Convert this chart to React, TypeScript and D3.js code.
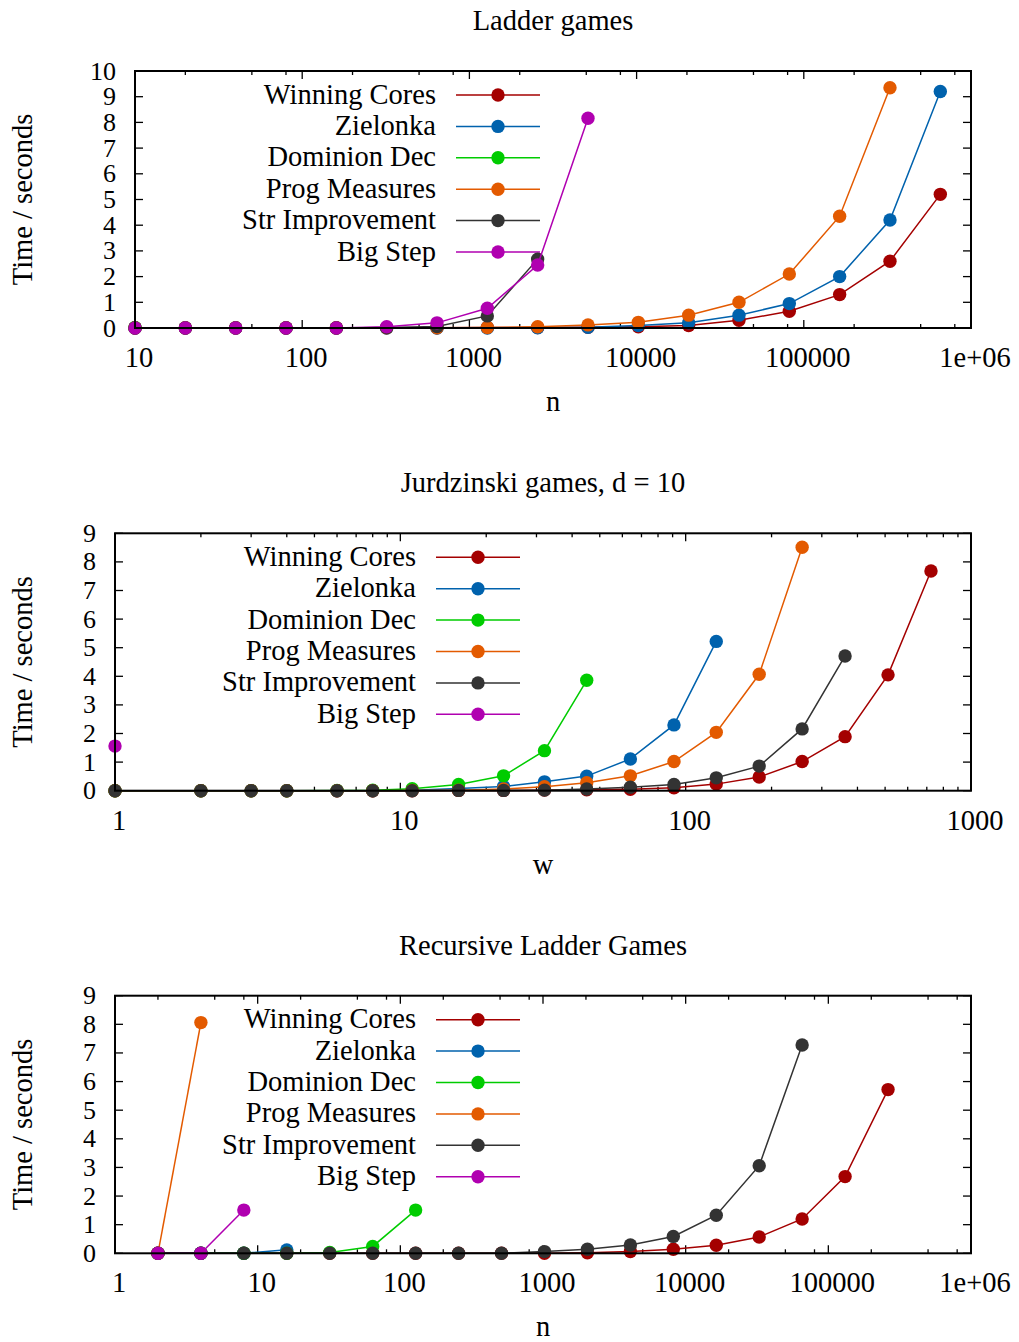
import React from 'react';
import * as d3 from 'd3';

const width = 1019;
const height = 1342;
const font = '"Liberation Serif", "Times New Roman", serif';
const fontSize = 28.5;
const tickFontSize = 26;

const names = ['Winning Cores', 'Zielonka', 'Dominion Dec', 'Prog Measures', 'Str Improvement', 'Big Step'];
const colors = ['#a40000', '#0062ad', '#00cc00', '#e35a00', '#333333', '#b000b0'];

// --- Ladder games ---
const ladderN = [10, 20, 40, 80, 160, 320, 640, 1280, 2560, 5120, 10240, 20480, 40960, 81920, 163840, 327680, 655360];
const ladderWinningCores = [0.01, 0.01, 0.01, 0.01, 0.01, 0.01, 0.01, 0.02, 0.02, 0.03, 0.05, 0.1, 0.3, 0.65, 1.3, 2.6, 5.2];
const ladderZielonka = [0, 0, 0, 0, 0, 0, 0, 0, 0.01, 0.03, 0.1, 0.2, 0.5, 0.95, 2.0, 4.2, 9.2];
const ladderDominion = [0.02];
const ladderProg = [0, 0, 0, 0, 0, 0.01, 0.01, 0.02, 0.05, 0.12, 0.22, 0.5, 1.0, 2.1, 4.35, 9.35];
const ladderStrImp = [0, 0, 0, 0, 0, 0.02, 0.06, 0.47, 2.68];
const ladderBigStep = [0, 0, 0, 0, 0, 0.05, 0.2, 0.77, 2.45, 8.16];
const ladderTicks = [10, 100, 1000, 10000, 100000, 1000000];
const ladderTickLabels = ['10', '100', '1000', '10000', '100000', '1e+06'];

// --- Jurdzinski games, d = 10 ---
const jurW = [1, 2, 3, 4, 6, 8, 11, 16, 23, 32, 45, 64, 91, 128, 181, 256, 362, 512, 724];
const jurWinningCores = [0, 0, 0, 0, 0, 0, 0, 0.01, 0.01, 0.02, 0.03, 0.05, 0.1, 0.23, 0.48, 1.02, 1.89, 4.05, 7.68];
const jurZielonka = [0, 0, 0, 0, 0, 0, 0.02, 0.08, 0.15, 0.31, 0.51, 1.11, 2.3, 5.22];
const jurDominion = [0, 0, 0, 0, 0.01, 0.02, 0.07, 0.22, 0.52, 1.4, 3.86];
const jurProg = [0, 0, 0, 0, 0, 0, 0.01, 0.02, 0.06, 0.14, 0.28, 0.52, 1.02, 2.04, 4.07, 8.51];
const jurStrImp = [0, 0, 0, 0, 0, 0, 0, 0.01, 0.01, 0.02, 0.06, 0.12, 0.22, 0.45, 0.86, 2.16, 4.71];
const jurBigStep = [1.56];
const jurTicks = [1, 10, 100, 1000];
const jurTickLabels = ['1', '10', '100', '1000'];

// --- Recursive Ladder Games ---
const recN = [2, 4, 8, 16, 32, 64, 128, 256, 512, 1024, 2048, 4096, 8192, 16384, 32768, 65536, 131072, 262144];
const recWinningCores = [0, 0, 0, 0, 0, 0, 0, 0, 0, 0, 0.02, 0.06, 0.14, 0.28, 0.57, 1.2, 2.68, 5.72];
const recZielonka = [0, 0, 0, 0.12];
const recDominion = [0, 0, 0, 0, 0.03, 0.24, 1.51];
const recProg = [0, 8.06];
const recStrImp = [0, 0, 0, 0, 0, 0, 0, 0, 0, 0.06, 0.14, 0.29, 0.59, 1.33, 3.06, 7.28];
const recBigStep = [0, 0, 1.51];
const recTicks = [1, 10, 100, 1000, 10000, 100000, 1000000];
const recTickLabels = ['1', '10', '100', '1000', '10000', '100000', '1e+06'];

const panels = [
    {
        title: 'Ladder games', xlabel: 'n', xs: ladderN,
        series: [ladderWinningCores, ladderZielonka, ladderDominion, ladderProg, ladderStrImp, ladderBigStep],
        left: 135, right: 971, top: 71, bottom: 328, xDomain: [10, 1000000], yMax: 10,
        ticks: ladderTicks, tickLabels: ladderTickLabels, minor: [2, 5, 8], legendRight: 436,
    },
    {
        title: 'Jurdzinski games, d = 10', xlabel: 'w', xs: jurW,
        series: [jurWinningCores, jurZielonka, jurDominion, jurProg, jurStrImp, jurBigStep],
        left: 115, right: 971, top: 533.3, bottom: 790.7, xDomain: [1, 1000], yMax: 9,
        ticks: jurTicks, tickLabels: jurTickLabels, minor: [2, 3, 4, 5, 6, 7, 8, 9], legendRight: 416,
    },
    {
        title: 'Recursive Ladder Games', xlabel: 'n', xs: recN,
        series: [recWinningCores, recZielonka, recDominion, recProg, recStrImp, recBigStep],
        left: 115, right: 971, top: 995.7, bottom: 1253.3, xDomain: [1, 1000000], yMax: 9,
        ticks: recTicks, tickLabels: recTickLabels, minor: [2, 5, 8], legendRight: 416,
    },
];

function Panel({p}) {
    const x = d3.scaleLog().domain(p.xDomain).range([p.left, p.right]);
    const y = d3.scaleLinear().domain([0, p.yMax]).range([p.bottom, p.top]);
    const lineGen = d3.line().x(d => x(d[0])).y(d => y(d[1]));
    const cx = (p.left + p.right) / 2;
    const cy = (p.top + p.bottom) / 2;

    // minor ticks on the log axis
    const minors = [];
    const [lo, hi] = p.xDomain;
    for (let e = Math.floor(Math.log10(lo)); e <= Math.ceil(Math.log10(hi)); e++) {
        for (const m of p.minor) {
            const v = m * Math.pow(10, e);
            if (v > lo && v < hi) minors.push(v);
        }
    }
    const yTicks = d3.range(0, p.yMax + 1);
    const rowH = 31.4;
    const legendTop = p.top + 24;

    return (
        <g>
            <text x={cx} y={p.top - 41} textAnchor='middle' fontSize={fontSize}>{p.title}</text>
            <text x={cx} y={p.bottom + 83} textAnchor='middle' fontSize={fontSize}>{p.xlabel}</text>
            <text transform={`translate(32, ${cy}) rotate(-90)`} textAnchor='middle' fontSize={fontSize}>Time / seconds</text>

            {yTicks.map(t => (
                <g key={'y' + t}>
                    <line x1={p.left} x2={p.left + 8} y1={y(t)} y2={y(t)} stroke='black' strokeWidth='1.3'/>
                    <line x1={p.right} x2={p.right - 8} y1={y(t)} y2={y(t)} stroke='black' strokeWidth='1.3'/>
                    <text x={p.left - 19} y={y(t) + 8.5} textAnchor='end' fontSize={tickFontSize}>{t}</text>
                </g>
            ))}
            {p.ticks.map((t, i) => (
                <g key={'x' + t}>
                    <line x1={x(t)} x2={x(t)} y1={p.bottom} y2={p.bottom - 8} stroke='black' strokeWidth='1.3'/>
                    <line x1={x(t)} x2={x(t)} y1={p.top} y2={p.top + 8} stroke='black' strokeWidth='1.3'/>
                    <text x={x(t) + 4} y={p.bottom + 39} textAnchor='middle' fontSize={fontSize}>{p.tickLabels[i]}</text>
                </g>
            ))}
            {minors.map(t => (
                <g key={'m' + t}>
                    <line x1={x(t)} x2={x(t)} y1={p.bottom} y2={p.bottom - 4} stroke='black' strokeWidth='1.3'/>
                    <line x1={x(t)} x2={x(t)} y1={p.top} y2={p.top + 4} stroke='black' strokeWidth='1.3'/>
                </g>
            ))}

            {names.map((name, i) => {
                const ly = legendTop + i * rowH;
                return (
                    <g key={'l' + name}>
                        <text x={p.legendRight} y={ly + 8.5} textAnchor='end' fontSize={fontSize}>{name}</text>
                        <line x1={p.legendRight + 20} x2={p.legendRight + 104} y1={ly} y2={ly} stroke={colors[i]} strokeWidth='1.5'/>
                        <circle cx={p.legendRight + 62} cy={ly} r='6.7' fill={colors[i]}/>
                    </g>
                );
            })}

            {p.series.map((vals, i) => {
                const pts = vals.map((v, k) => [p.xs[k], v]);
                return (
                    <g key={'s' + i}>
                        <path d={lineGen(pts)} fill='none' stroke={colors[i]} strokeWidth='1.5'/>
                        {pts.map((d, k) => (
                            <circle key={k} cx={x(d[0])} cy={y(d[1])} r='6.7' fill={colors[i]}/>
                        ))}
                    </g>
                );
            })}

            <rect x={p.left} y={p.top} width={p.right - p.left} height={p.bottom - p.top} fill='none' stroke='black' strokeWidth='2'/>
        </g>
    );
}

export default function App() {
    return (
        <svg width={width} height={height} style={{position: 'absolute', left: 0, top: 0, background: 'white'}}
             fontFamily={font} fill='black'>
            <rect width={width} height={height} fill='white'/>
            {panels.map(p => <Panel key={p.title} p={p}/>)}
        </svg>
    );
}
